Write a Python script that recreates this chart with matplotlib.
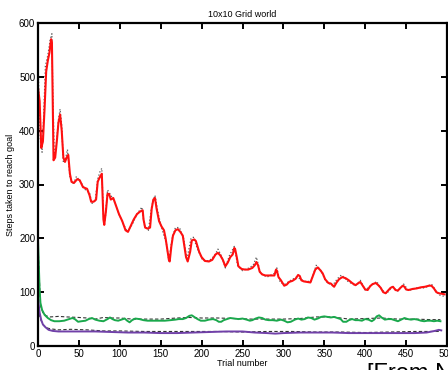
import numpy as np
import matplotlib
matplotlib.use("Agg")
import matplotlib.pyplot as plt

# red curve (smoothed) - trial, steps
red_x = [0, 2, 4, 6, 8, 10, 12, 14, 16, 17, 18, 19, 21, 23, 25, 27, 29, 31, 33, 35, 37, 39, 41, 44, 48, 51, 55, 60, 63, 65, 68, 71, 73, 75, 78, 79, 80, 81, 83, 85, 87, 89, 92, 95, 99, 103, 107, 110, 113, 117, 121, 125, 128, 129, 131, 134, 137, 139, 141, 143, 145, 148, 151, 154, 156, 158, 160, 161, 163, 165, 168, 171, 174, 177, 179, 181, 183, 186, 188, 191, 193, 195, 197, 200, 204, 209, 213, 217, 220, 223, 226, 229, 232, 235, 238, 240, 241, 243, 245, 249, 253, 257, 262, 265, 267, 269, 271, 274, 278, 283, 289, 291, 292, 294, 297, 301, 304, 307, 311, 315, 318, 320, 322, 325, 329, 333, 336, 339, 342, 345, 348, 351, 355, 358, 362, 365, 368, 372, 376, 380, 384, 388, 392, 394, 397, 400, 403, 406, 409, 413, 416, 419, 422, 425, 428, 431, 434, 437, 440, 443, 446, 448, 450, 453, 458, 463, 468, 473, 478, 481, 484, 487, 490, 494, 497]
red_y = [480, 455, 368, 380, 440, 510, 530, 545, 570, 565, 450, 345, 350, 380, 415, 430, 400, 350, 342, 350, 355, 320, 305, 303, 310, 308, 295, 292, 280, 268, 268, 272, 305, 312, 320, 280, 235, 225, 250, 283, 282, 272, 275, 262, 245, 232, 215, 212, 222, 235, 245, 250, 252, 235, 220, 218, 220, 255, 272, 275, 255, 232, 222, 215, 200, 180, 160, 157, 185, 205, 215, 217, 212, 205, 185, 165, 157, 175, 196, 198, 195, 185, 175, 165, 158, 157, 160, 170, 173, 168, 160, 148, 155, 165, 170, 182, 180, 165, 148, 143, 142, 142, 145, 150, 156, 150, 138, 133, 131, 131, 131, 142, 140, 128, 122, 112, 114, 119, 121, 125, 132, 130, 122, 120, 119, 118, 130, 142, 146, 141, 135, 124, 117, 116, 110, 118, 124, 128, 126, 122, 117, 113, 117, 119, 112, 105, 104, 111, 115, 117, 113, 108, 100, 98, 103, 108, 110, 104, 103, 108, 112, 110, 105, 104, 106, 107, 109, 110, 112, 112, 107, 100, 98, 97, 96]

# dotted raw-ish trace around the red curve
reddot_x = [0, 1, 3, 5, 7, 9, 12, 15, 17, 18, 20, 22, 25, 27, 29, 31, 34, 36, 39, 43, 47, 52, 58, 63, 66, 70, 73, 76, 78, 80, 82, 85, 89, 93, 98, 104, 109, 115, 121, 127, 130, 135, 139, 143, 147, 152, 157, 160, 164, 168, 173, 178, 182, 187, 190, 195, 201, 209, 216, 220, 225, 229, 234, 240, 244, 250, 258, 263, 267, 272, 280, 289, 292, 296, 302, 309, 316, 320, 326, 334, 340, 346, 352, 360, 366, 371, 379, 388, 394, 400, 407, 414, 420, 426, 433, 440, 447, 453, 463, 473, 481, 490, 497]
reddot_y = [540, 470, 380, 360, 430, 520, 540, 570, 580, 480, 350, 370, 420, 440, 410, 340, 350, 365, 315, 300, 315, 305, 290, 285, 265, 270, 310, 325, 330, 240, 232, 290, 280, 270, 248, 228, 212, 225, 245, 258, 225, 215, 260, 280, 245, 215, 190, 158, 200, 220, 220, 200, 160, 200, 202, 180, 160, 158, 168, 180, 165, 145, 168, 185, 150, 140, 145, 150, 165, 135, 128, 135, 145, 118, 115, 122, 128, 125, 120, 120, 150, 140, 120, 112, 125, 132, 120, 112, 122, 104, 112, 120, 105, 97, 110, 102, 115, 103, 108, 108, 115, 95, 92]

# green curve
green_x = [0, 1, 2, 3, 5, 8, 12, 16, 20, 26, 32, 38, 42, 45, 49, 53, 58, 62, 66, 70, 75, 80, 85, 88, 91, 94, 98, 102, 106, 109, 112, 115, 119, 124, 129, 134, 140, 148, 155, 162, 168, 172, 177, 181, 185, 188, 191, 195, 199, 204, 209, 214, 218, 221, 224, 227, 231, 235, 240, 245, 250, 255, 259, 262, 266, 270, 274, 278, 282, 287, 292, 297, 301, 305, 309, 314, 318, 322, 326, 330, 334, 338, 342, 346, 350, 354, 358, 362, 366, 370, 373, 377, 380, 384, 388, 392, 396, 400, 404, 408, 411, 414, 417, 420, 424, 428, 432, 436, 440, 444, 448, 452, 456, 460, 464, 468, 472, 476, 480, 484, 488, 492]
green_y = [197, 150, 104, 80, 67, 58, 52, 48, 46, 46, 47, 50, 52, 50, 45, 46, 47, 50, 52, 49, 47, 46, 50, 53, 50, 48, 47, 49, 51, 47, 44, 48, 51, 50, 48, 47, 47, 47, 47, 48, 49, 50, 50, 52, 56, 57, 54, 50, 47, 47, 49, 50, 48, 45, 45, 48, 50, 52, 51, 50, 51, 49, 47, 48, 51, 53, 52, 49, 48, 48, 47, 49, 47, 44, 45, 49, 51, 49, 50, 53, 52, 49, 51, 54, 55, 54, 53, 54, 52, 50, 45, 45, 48, 50, 48, 48, 47, 50, 49, 46, 49, 55, 57, 53, 49, 50, 50, 48, 46, 49, 52, 50, 49, 50, 49, 47, 46, 47, 47, 46, 47, 46]

greendash_x = [0, 3, 6, 10, 15, 25, 35, 50, 60, 70, 80, 90, 100, 115, 130, 150, 170, 185, 200, 220, 240, 260, 280, 300, 320, 340, 360, 380, 400, 420, 440, 460, 480, 492]
greendash_y = [190, 75, 62, 56, 54, 55, 54, 53, 52, 50, 53, 52, 52, 50, 50, 50, 52, 53, 52, 52, 51, 50, 50, 50, 51, 54, 54, 50, 51, 52, 50, 50, 49, 49]

# purple curve
purple_x = [0, 2, 4, 6, 9, 13, 18, 25, 35, 50, 70, 90, 110, 130, 150, 170, 190, 210, 230, 250, 265, 280, 290, 300, 320, 340, 360, 380, 400, 420, 440, 460, 475, 485, 490, 493]
purple_y = [88, 62, 48, 40, 35, 30, 28, 27, 27, 27, 27, 26, 25, 25, 24, 24, 25, 26, 27, 27, 25, 24, 23, 24, 25, 25, 25, 24, 24, 24, 24, 24, 25, 28, 30, 29]

purpledash_x = [0, 3, 6, 10, 15, 25, 40, 60, 80, 100, 130, 160, 190, 220, 250, 280, 310, 340, 370, 400, 430, 460, 490]
purpledash_y = [70, 50, 40, 34, 32, 30, 31, 30, 28, 28, 27, 27, 27, 27, 26, 27, 27, 26, 26, 25, 26, 27, 27]

plt.rcParams["font.family"] = ["Liberation Sans", "DejaVu Sans"]
plt.rcParams["font.size"] = 7

fig = plt.figure(figsize=(4.48, 3.70), dpi=100)
ax = fig.add_axes([38 / 448, 1 - 346 / 370, 409 / 448, 323 / 370])

ax.plot(reddot_x, reddot_y, color="0.35", linestyle=":", linewidth=0.9)
ax.plot(red_x, red_y, color="#ff1010", linewidth=1.5)
ax.plot(greendash_x, greendash_y, color="0.2", linestyle=(0, (3, 2)), linewidth=0.8)
ax.plot(green_x, green_y, color="#1aa84c", linewidth=1.4)
ax.plot(purpledash_x, purpledash_y, color="0.2", linestyle=(0, (3, 2)), linewidth=0.8)
ax.plot(purple_x, purple_y, color="#7040a8", linewidth=1.4)

ax.set_xlim(0, 500)
ax.set_ylim(0, 600)
ax.set_xticks(np.arange(0, 501, 50))
ax.set_yticks(np.arange(0, 601, 100))
ax.tick_params(direction="in", length=4, width=1.4, top=True, right=True, pad=2)
for s in ax.spines.values():
    s.set_linewidth(1.6)

ax.set_title("10x10 Grid world", fontsize=6.5, pad=4)
ax.set_xlabel("Trial number", fontsize=6.5, labelpad=0)
ax.set_ylabel("Steps taken to reach goal", fontsize=6.5, labelpad=3)

fig.text(367 / 448, -0.026, "[From N", fontsize=17, va="baseline")

fig.savefig("out.png", dpi=100)
